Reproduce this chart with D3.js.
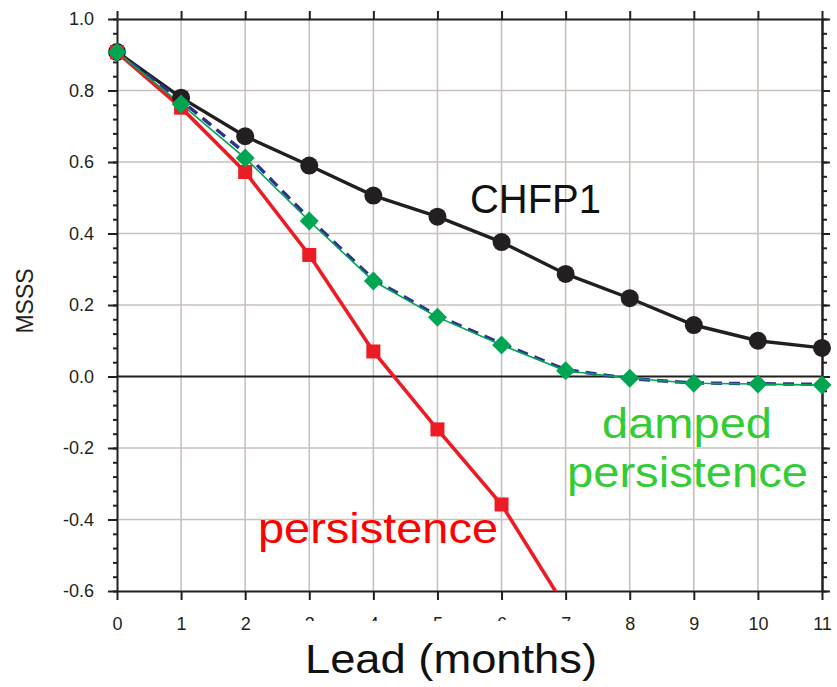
<!DOCTYPE html>
<html>
<head>
<meta charset="utf-8">
<script src="https://cdn.jsdelivr.net/npm/d3@7"></script>
<style>
  body { margin: 0; background: #fff; }
  svg { display: block; font-family: "Liberation Sans", Arial, Helvetica, sans-serif; }
</style>
</head>
<body>
<script>
// lead months
var leads = [0, 1, 2, 3, 4, 5, 6, 7, 8, 9, 10, 11];

// MSSS values
var chfp1 = [0.908, 0.780, 0.672, 0.590, 0.506, 0.447, 0.376, 0.287, 0.219, 0.144, 0.100, 0.080];
var persistence = [0.907, 0.752, 0.572, 0.340, 0.070, -0.148, -0.358, -0.646];
var damped = [0.907, 0.762, 0.611, 0.435, 0.267, 0.166, 0.088, 0.016, -0.005, -0.019, -0.021, -0.024];
var dampedFit = [0.907, 0.772, 0.625, 0.442, 0.272, 0.170, 0.092, 0.019, -0.006, -0.018, -0.020, -0.022];

var xTicks = leads;
var yTicks = [-0.6, -0.4, -0.2, 0.0, 0.2, 0.4, 0.6, 0.8, 1.0];
var yMinor = d3.range(-0.6, 1.0001, 0.04);

var config = {
  width: 837,
  height: 687,
  left: 117,
  right: 822,
  top: 19,
  bottom: 591,
  font: "'Liberation Sans', Arial, Helvetica, sans-serif"
};

var svg = d3.select("body").append("svg")
  .attr("width", config.width)
  .attr("height", config.height);

var x = d3.scaleLinear().domain([0, 11]).range([config.left, config.right]);
var y = d3.scaleLinear().domain([-0.6, 1.0]).range([config.bottom, config.top]);

svg.append("defs").append("clipPath").attr("id", "plot-clip")
  .append("rect")
  .attr("x", config.left).attr("y", config.top)
  .attr("width", config.right - config.left)
  .attr("height", config.bottom - config.top);

// grid
var grid = svg.append("g").attr("stroke", "#c9c1bd").attr("stroke-width", 1.6);
grid.selectAll(".vg").data(xTicks.slice(1, -1)).enter().append("line")
  .attr("x1", d => x(d)).attr("x2", d => x(d))
  .attr("y1", config.top).attr("y2", config.bottom);
grid.selectAll(".hg").data(yTicks.slice(1, -1).filter(d => d !== 0)).enter().append("line")
  .attr("x1", config.left).attr("x2", config.right)
  .attr("y1", d => y(d)).attr("y2", d => y(d));

// zero line
svg.append("line")
  .attr("x1", config.left).attr("x2", config.right)
  .attr("y1", y(0)).attr("y2", y(0))
  .attr("stroke", "#231f20").attr("stroke-width", 1.8);

// axes
var axisColor = "#231f20";
function styleAxis(g) {
  g.attr("font-family", config.font);
  g.selectAll("path").attr("stroke", axisColor).attr("stroke-width", 2);
  g.selectAll("line").attr("stroke", axisColor).attr("stroke-width", 2);
}
var fmtY = d => d3.format(".1f")(d).replace("\u2212", "-");

svg.append("g")
  .attr("transform", "translate(0," + config.bottom + ")")
  .call(d3.axisBottom(x).tickValues(xTicks).tickSize(9).tickSizeOuter(0).tickFormat(d3.format("d")))
  .call(styleAxis)
  .call(g => g.selectAll("text").attr("font-size", 18).attr("fill", "#231f20").attr("y", 39).attr("dy", 0));

svg.append("g")
  .attr("transform", "translate(0," + config.top + ")")
  .call(d3.axisTop(x).tickValues(xTicks).tickSize(8).tickSizeOuter(0).tickFormat(""))
  .call(styleAxis);

svg.append("g")
  .attr("transform", "translate(" + config.left + ",0)")
  .call(d3.axisLeft(y).tickValues(yMinor).tickSize(4).tickSizeOuter(0).tickFormat(""))
  .call(styleAxis);

svg.append("g")
  .attr("transform", "translate(" + config.left + ",0)")
  .call(d3.axisLeft(y).tickValues(yTicks).tickSize(9).tickSizeOuter(0).tickFormat(fmtY))
  .call(styleAxis)
  .call(g => g.select("path").remove())
  .call(g => g.selectAll("text").attr("font-size", 18).attr("fill", "#231f20").attr("x", -23));

svg.append("g")
  .attr("transform", "translate(" + config.right + ",0)")
  .call(d3.axisRight(y).tickValues(yMinor).tickSize(5).tickSizeOuter(0).tickFormat(""))
  .call(styleAxis);

svg.append("g")
  .attr("transform", "translate(" + config.right + ",0)")
  .call(d3.axisRight(y).tickValues(yTicks).tickSize(8).tickSizeOuter(0).tickFormat(""))
  .call(styleAxis);

// series lines
var line = d3.line().x((d, i) => x(leads[i])).y(d => y(d));
var lines = svg.append("g").attr("clip-path", "url(#plot-clip)").attr("fill", "none");

lines.append("path").datum(chfp1).attr("d", line)
  .attr("stroke", "#231f20").attr("stroke-width", 3.4);
lines.append("path").datum(persistence).attr("d", line)
  .attr("stroke", "#ed1c24").attr("stroke-width", 3.6);
lines.append("path").datum(dampedFit).attr("d", line)
  .attr("stroke", "#2e3192").attr("stroke-width", 3.4).attr("stroke-dasharray", "11,7");
lines.append("path").datum(damped).attr("d", line)
  .attr("stroke", "#00a651").attr("stroke-width", 1.6);

// markers
svg.append("g").selectAll("circle").data(chfp1).enter().append("circle")
  .attr("cx", (d, i) => x(leads[i])).attr("cy", d => y(d))
  .attr("r", 9).attr("fill", "#231f20");

svg.append("g").selectAll("rect").data(persistence.filter(d => d >= -0.6)).enter().append("rect")
  .attr("x", (d, i) => x(leads[i]) - 7).attr("y", d => y(d) - 7)
  .attr("width", 14).attr("height", 14).attr("fill", "#ed1c24");

svg.append("g").selectAll("path").data(damped).enter().append("path")
  .attr("transform", (d, i) => "translate(" + x(leads[i]) + "," + y(d) + ")")
  .attr("d", "M0,-9.5L9.5,0L0,9.5L-9.5,0Z")
  .attr("fill", "#00a651");

// labels
svg.append("text").text("CHFP1")
  .attr("x", 470).attr("y", 213)
  .attr("font-size", 41).attr("fill", "#111")
  .attr("textLength", 131).attr("lengthAdjust", "spacingAndGlyphs");

svg.append("text").text("damped")
  .attr("x", 602).attr("y", 438)
  .attr("font-size", 42).attr("fill", "#33cc33")
  .attr("textLength", 170).attr("lengthAdjust", "spacingAndGlyphs");

svg.append("text").text("persistence")
  .attr("x", 567).attr("y", 487)
  .attr("font-size", 42).attr("fill", "#33cc33")
  .attr("textLength", 241).attr("lengthAdjust", "spacingAndGlyphs");

svg.append("text").text("persistence")
  .attr("x", 258).attr("y", 543)
  .attr("font-size", 42).attr("fill", "#ff0000")
  .attr("textLength", 240).attr("lengthAdjust", "spacingAndGlyphs");

// y title
svg.append("text").text("MSSS")
  .attr("transform", "translate(33,301) rotate(-90)")
  .attr("text-anchor", "middle")
  .attr("font-size", 23).attr("fill", "#231f20");

// x title with its white box (hides part of the tick labels)
svg.append("rect")
  .attr("x", 290).attr("y", 621)
  .attr("width", 336).attr("height", 66)
  .attr("fill", "#fff");

svg.append("text").text("Lead (months)")
  .attr("x", 305).attr("y", 673)
  .attr("font-size", 41).attr("fill", "#111")
  .attr("textLength", 292).attr("lengthAdjust", "spacingAndGlyphs");
</script>
</body>
</html>
